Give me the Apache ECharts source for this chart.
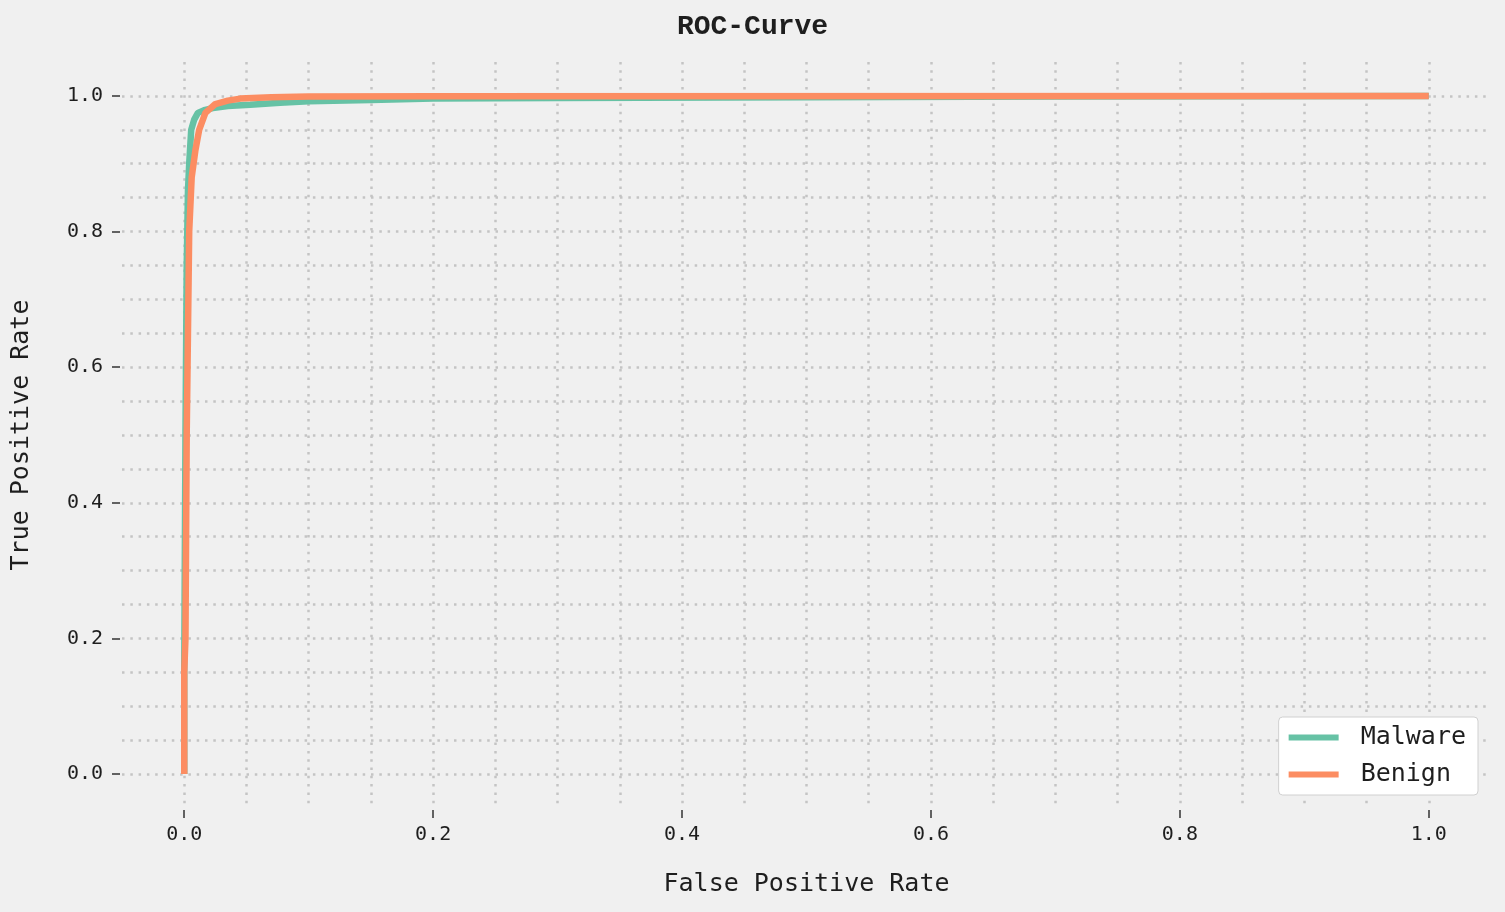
<!DOCTYPE html>
<html>
<head>
<meta charset="utf-8">
<title>ROC-Curve</title>
<script src="https://cdn.jsdelivr.net/npm/echarts@6/dist/echarts.min.js"></script>
<style>
  html, body { margin: 0; padding: 0; background: #f0f0f0; }
  #roc-chart { width: 1505px; height: 912px; }
</style>
</head>
<body>
<div id="roc-chart"></div>
<script>
// series names
const seriesNames = ['Malware', 'Benign']

// [false positive rate, true positive rate]
const malwarePoints = [
  [0, 0], [0, 0.15], [0.001, 0.5], [0.002, 0.75], [0.003, 0.86], [0.004, 0.9],
  [0.0056, 0.95], [0.008, 0.965], [0.011, 0.975], [0.016, 0.979], [0.023, 0.982],
  [0.035, 0.985], [0.053, 0.987], [0.077, 0.99], [0.1, 0.992], [0.15, 0.994],
  [0.2, 0.996], [0.3, 0.997], [0.5, 0.998], [0.7, 0.999], [1.0, 1.0]
]
const benignPoints = [
  [0, 0], [0, 0.15], [0.001, 0.2], [0.002, 0.5], [0.004, 0.8], [0.006, 0.88],
  [0.009, 0.92], [0.012, 0.95], [0.017, 0.975], [0.025, 0.988], [0.035, 0.993],
  [0.045, 0.996], [0.07, 0.998], [0.1, 0.999], [0.2, 0.9995], [1.0, 1.0]
]

// tick labels on both axes
const tickValues = [0, 0.2, 0.4, 0.6, 0.8, 1.0]

const colors = ['#66c2a5', '#fc8d62']
const monoFont = '"DejaVu Sans Mono", monospace'

const chart = echarts.init(document.getElementById('roc-chart'))

// dotted grid every 0.05, labels/ticks only every 0.2
function gridAxis() {
  return {
    type: 'value', min: -0.05, max: 1.05, interval: 0.05,
    axisLine: { show: false, onZero: false }, axisTick: { show: false }, axisLabel: { show: false },
    splitLine: {
      show: true, showMinLine: false, showMaxLine: false,
      lineStyle: { color: '#c4c4c4', width: 2.5, type: [2.5, 5.8] }
    }
  }
}
function labelAxis(position) {
  return {
    type: 'value', min: -0.05, max: 1.05, position: position, offset: 2,
    axisLine: { show: false, onZero: false },
    axisTick: { show: true, customValues: tickValues, length: 8, lineStyle: { color: '#333', width: 1.5 } },
    axisLabel: {
      customValues: tickValues, margin: 17,
      fontFamily: monoFont, fontSize: 20, color: '#1e1e1e',
      formatter: v => v.toFixed(1)
    },
    splitLine: { show: false }
  }
}

const xLabel = labelAxis('bottom')
xLabel.axisLabel.margin = 15
xLabel.name = 'False Positive Rate'
xLabel.nameLocation = 'middle'
xLabel.nameGap = 62
xLabel.nameTextStyle = { fontFamily: monoFont, fontSize: 25, color: '#1e1e1e' }

const yLabel = labelAxis('left')
yLabel.name = 'True Positive Rate'
yLabel.nameLocation = 'middle'
yLabel.nameGap = 86
yLabel.nameTextStyle = { fontFamily: monoFont, fontSize: 25, color: '#1e1e1e' }

chart.setOption({
  backgroundColor: '#f0f0f0',
  animation: false,
  title: {
    text: 'ROC-Curve', left: 'center', top: 8,
    textStyle: { fontFamily: '"Liberation Mono", monospace', fontWeight: 'bold', fontSize: 28, color: '#1e1e1e' }
  },
  grid: { left: 122, right: 14, top: 62, bottom: 104 },
  xAxis: [gridAxis(), xLabel],
  yAxis: [gridAxis(), yLabel],
  legend: {
    orient: 'vertical', right: 27, bottom: 117,
    backgroundColor: '#ffffff', borderColor: '#d0d0d0', borderWidth: 1, borderRadius: 4,
    padding: [8, 12, 8, 10], itemGap: 12, itemWidth: 50, itemHeight: 6, icon: 'rect',
    textStyle: { fontFamily: monoFont, fontSize: 25, color: '#1e1e1e', padding: [0, 0, 0, 17] },
    data: seriesNames
  },
  series: [{
    name: seriesNames[0], type: 'line', data: malwarePoints,
    xAxisIndex: 0, yAxisIndex: 0, showSymbol: false, symbol: 'none',
    lineStyle: { color: colors[0], width: 6.5 }, itemStyle: { color: colors[0] }
  }, {
    name: seriesNames[1], type: 'line', data: benignPoints,
    xAxisIndex: 0, yAxisIndex: 0, showSymbol: false, symbol: 'none',
    lineStyle: { color: colors[1], width: 6.5 }, itemStyle: { color: colors[1] }
  }]
})
</script>
</body>
</html>
